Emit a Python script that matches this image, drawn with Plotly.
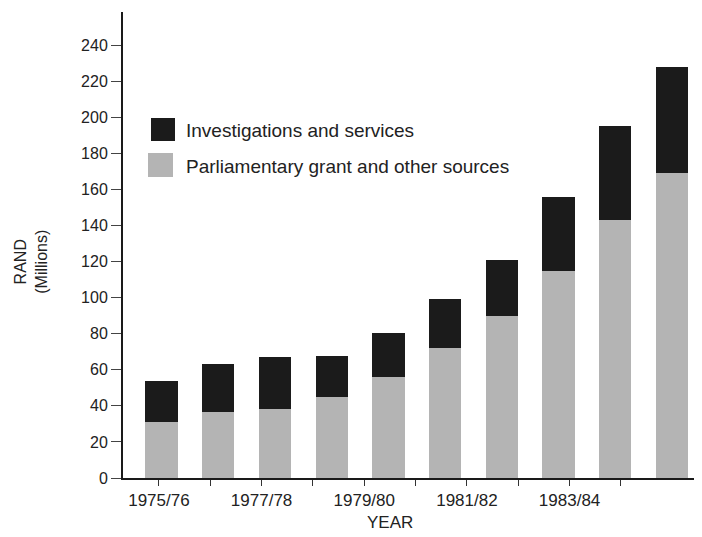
import plotly.graph_objects as go

years = ["1975/76", "1976/77", "1977/78", "1978/79", "1979/80",
         "1980/81", "1981/82", "1982/83", "1983/84", "1984/85"]
parliamentary = [31, 36.4, 38, 45, 56, 72, 90, 115, 143, 169]
investigations = [23, 26.6, 29, 22.5, 24.4, 27, 31, 41, 52, 59]
tick_labels = ["1975/76", "", "1977/78", "", "1979/80", "", "1981/82", "", "1983/84", ""]
y_ticks = list(range(0, 241, 20))

BLACK = "#1b1b1b"
GRAY = "#b4b4b4"
FONT = "Liberation Sans, Arial, sans-serif"
TXT = "#222222"

# page body has an 8px margin; figure placed so the plot area spans
# page pixels x 123..702, y 12..478
fig = go.Figure()
fig.add_trace(go.Bar(x=list(range(len(years))), y=parliamentary,
                     name="Parliamentary grant and other sources",
                     marker=dict(color=GRAY, line=dict(width=0)), width=0.57))
fig.add_trace(go.Bar(x=list(range(len(years))), y=investigations,
                     name="Investigations and services",
                     marker=dict(color=BLACK, line=dict(width=0)), width=0.57))
# invisible trace to carry the labelled year axis
fig.add_trace(go.Scatter(x=years, y=[None] * len(years), xaxis="x2",
                         showlegend=False, hoverinfo="skip"))

fig.update_layout(
    width=694, height=529,
    margin=dict(l=115, r=0, t=4, b=59),
    paper_bgcolor="white", plot_bgcolor="white",
    barmode="stack", showlegend=False,
    font=dict(family=FONT, color=TXT, size=15),
    xaxis=dict(range=[-0.68, 9.53], showticklabels=False, ticks="",
               showgrid=False, zeroline=False, showline=False),
    xaxis2=dict(overlaying="x", side="bottom", anchor="y", type="category",
                range=[-0.70, 10.58], tickmode="array", tickvals=years,
                ticktext=tick_labels, ticks="outside", ticklen=6,
                tickwidth=1, tickcolor="#333", showgrid=False, zeroline=False,
                showline=True, linecolor="#1a1a1a", linewidth=2,
                tickfont=dict(size=17, color=TXT)),
    yaxis=dict(range=[0, 258.3], tickmode="array", tickvals=y_ticks,
               ticks="outside", ticklen=10, tickwidth=1, tickcolor="#444",
               showgrid=False, zeroline=False, showline=True,
               linecolor="#1a1a1a", linewidth=2,
               tickfont=dict(size=16, color=TXT)),
)

# axis titles
fig.add_annotation(text="RAND<br>(Millions)", xref="paper", yref="paper",
                   x=-0.159, y=0.464, xanchor="center", yanchor="middle",
                   textangle=-90, showarrow=False,
                   font=dict(size=16, color=TXT))
fig.add_annotation(text="YEAR", xref="paper", yref="paper",
                   x=0.461, y=-0.095, xanchor="center", yanchor="middle",
                   showarrow=False, font=dict(size=17, color=TXT))

# manual legend (positions in page pixels of the plot area)
def px_x(p):
    return (p - 123) / 579

def px_y(p):
    return (478 - p) / 466

fig.add_shape(type="rect", xref="paper", yref="paper",
              x0=px_x(151), x1=px_x(175), y0=px_y(141), y1=px_y(118),
              fillcolor=BLACK, line=dict(width=0))
fig.add_shape(type="rect", xref="paper", yref="paper",
              x0=px_x(148), x1=px_x(173), y0=px_y(177), y1=px_y(153),
              fillcolor=GRAY, line=dict(width=0))
fig.add_annotation(text="Investigations and services", xref="paper", yref="paper",
                   x=px_x(184), y=px_y(130), xanchor="left", yanchor="middle",
                   showarrow=False, font=dict(size=19, color=TXT))
fig.add_annotation(text="Parliamentary grant and other sources", xref="paper", yref="paper",
                   x=px_x(184), y=px_y(166), xanchor="left", yanchor="middle",
                   showarrow=False, font=dict(size=19, color=TXT))

fig.write_html("out.html")
